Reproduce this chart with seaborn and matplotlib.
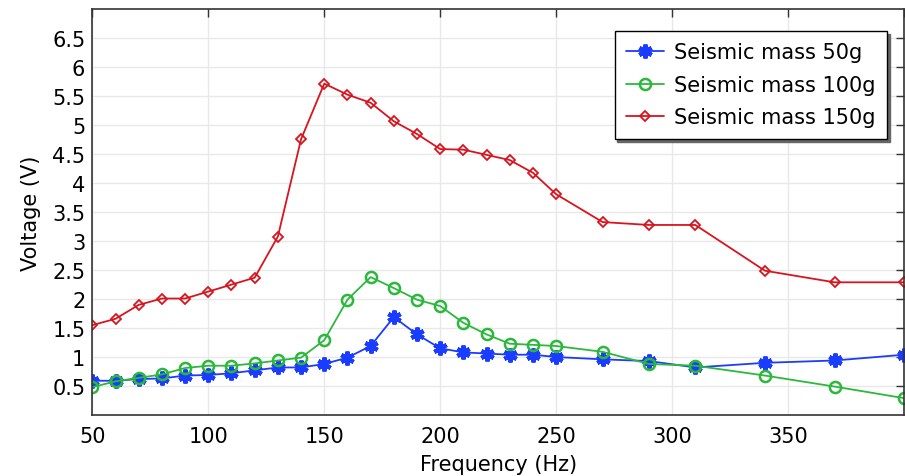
import numpy as np
import matplotlib
matplotlib.use("Agg")
import matplotlib.pyplot as plt
import seaborn as sns

# data
freq = [50, 60, 70, 80, 90, 100, 110, 120, 130, 140, 150, 160, 170, 180,
        190, 200, 210, 220, 230, 240, 250, 270, 290, 310, 340, 370, 400]
mass_50g = [0.59, 0.59, 0.62, 0.63, 0.68, 0.69, 0.72, 0.77, 0.82, 0.82, 0.88, 0.99, 1.19, 1.69,
            1.39, 1.15, 1.08, 1.06, 1.04, 1.04, 1.00, 0.96, 0.93, 0.82, 0.90, 0.94, 1.04]
mass_100g = [0.48, 0.58, 0.64, 0.70, 0.81, 0.85, 0.85, 0.89, 0.94, 0.99, 1.29, 1.99, 2.38, 2.19,
             1.99, 1.88, 1.59, 1.39, 1.23, 1.21, 1.19, 1.09, 0.88, 0.85, 0.68, 0.49, 0.29]
mass_150g = [1.55, 1.66, 1.90, 2.01, 2.01, 2.13, 2.25, 2.37, 3.08, 4.76, 5.72, 5.53, 5.39, 5.07,
             4.85, 4.59, 4.58, 4.49, 4.40, 4.18, 3.81, 3.33, 3.28, 3.28, 2.49, 2.29, 2.29]
labels = ["Seismic mass 50g", "Seismic mass 100g", "Seismic mass 150g"]

sns.set_theme(style="whitegrid")
plt.rcParams['font.family'] = ['DejaVu Sans']

fig, ax = plt.subplots(figsize=(9.05, 4.77), dpi=100)
fig.subplots_adjust(left=0.102, right=0.999, top=0.978, bottom=0.128)

sns.lineplot(x=freq, y=mass_50g, ax=ax, color="#1a3cff", marker=(6, 2, 0), markersize=10,
             markeredgewidth=3.0, markeredgecolor="#1a3cff", linewidth=1.3, label=labels[0])
sns.lineplot(x=freq, y=mass_100g, ax=ax, color="#2cb83c", marker="o", markersize=8,
             markerfacecolor="none", markeredgecolor="#2cb83c", markeredgewidth=1.8,
             linewidth=1.3, label=labels[1])
sns.lineplot(x=freq, y=mass_150g, ax=ax, color="#d9141e", marker="D", markersize=5.5,
             markerfacecolor="none", markeredgecolor="#d9141e", markeredgewidth=1.3,
             linewidth=1.3, label=labels[2])

ax.set_xlim(50, 400)
ax.set_ylim(0, 7)
ax.set_xticks([50, 100, 150, 200, 250, 300, 350, 400])
ax.set_xticklabels(["50", "100", "150", "200", "250", "300", "350", ""])
ax.set_yticks(np.arange(0.5, 7.0, 0.5))
ax.set_yticklabels(["0.5", "1", "1.5", "2", "2.5", "3", "3.5", "4", "4.5", "5", "5.5", "6", "6.5"])

ax.grid(True, color="#e8e8e8", linewidth=1.0)
for s in ax.spines.values():
    s.set_color("#333333")
    s.set_linewidth(1.2)
ax.tick_params(axis="both", direction="in", length=6, width=1, color="#333333",
               labelsize=15, labelcolor="black", top=True, right=True, pad=5)
ax.tick_params(axis="x", pad=8)

ax.set_xlabel("Frequency (Hz)", fontsize=15, color="black", labelpad=6)
ax.set_ylabel("Voltage (V)", fontsize=15, color="black", labelpad=8)

leg = ax.legend(loc="upper right", bbox_to_anchor=(0.979, 0.947), borderaxespad=0,
                fontsize=15, frameon=True, fancybox=False,
                shadow={"color": "0.4", "alpha": 1.0},
                borderpad=0.55, handlelength=1.8, handletextpad=0.5, labelspacing=0.6)
leg.get_frame().set_edgecolor("black")
leg.get_frame().set_linewidth(1.0)
for t in leg.get_texts():
    t.set_color("black")

plt.savefig("out.png", dpi=100)
plt.close()
